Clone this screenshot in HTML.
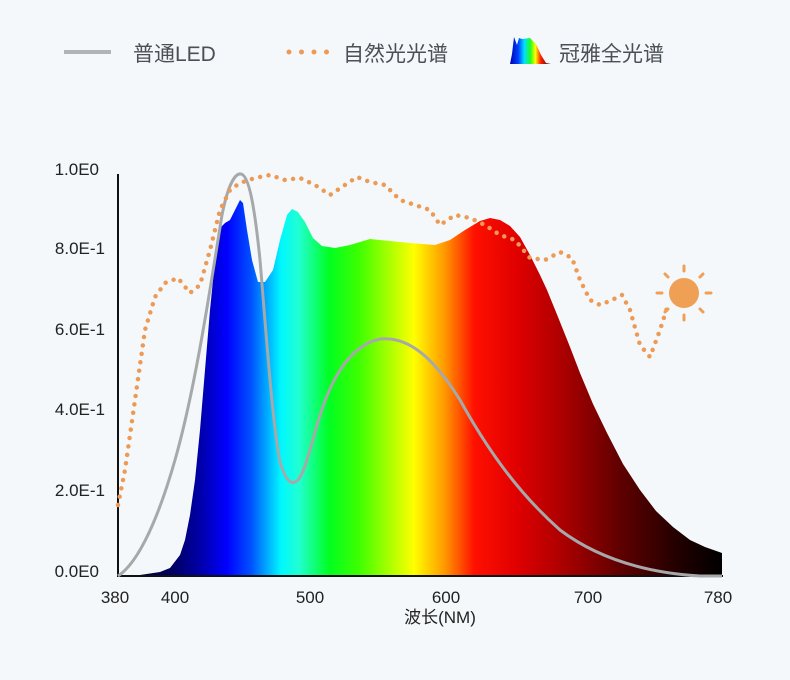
<!DOCTYPE html>
<html><head><meta charset="utf-8"><style>
body{margin:0;background:#f4f8fb;}
svg{display:block;font-family:"Liberation Sans","Noto Sans CJK SC",sans-serif;}
</style></head><body>
<svg width="790" height="680" viewBox="0 0 790 680">
<defs>
<linearGradient id="sp" gradientUnits="userSpaceOnUse" x1="118" y1="0" x2="722" y2="0">
<stop offset="0" stop-color="#000030"/>
<stop offset="0.09" stop-color="#000060"/>
<stop offset="0.14" stop-color="#0000b0"/>
<stop offset="0.18" stop-color="#0000ff"/>
<stop offset="0.22" stop-color="#0050ff"/>
<stop offset="0.27" stop-color="#00f8ff"/>
<stop offset="0.30" stop-color="#20ffd0"/>
<stop offset="0.35" stop-color="#00ff20"/>
<stop offset="0.40" stop-color="#40ff00"/>
<stop offset="0.46" stop-color="#c0ff00"/>
<stop offset="0.49" stop-color="#ffff00"/>
<stop offset="0.54" stop-color="#ff9a00"/>
<stop offset="0.59" stop-color="#ff1000"/>
<stop offset="0.66" stop-color="#e00000"/>
<stop offset="0.73" stop-color="#b00000"/>
<stop offset="0.83" stop-color="#600000"/>
<stop offset="0.93" stop-color="#200000"/>
<stop offset="1" stop-color="#000000"/>
</linearGradient>
<linearGradient id="lg" x1="0" y1="0" x2="1" y2="0">
<stop offset="0" stop-color="#0000b0"/><stop offset="0.2" stop-color="#0040ff"/><stop offset="0.35" stop-color="#00e0ff"/><stop offset="0.5" stop-color="#20ff20"/><stop offset="0.62" stop-color="#ffff00"/><stop offset="0.75" stop-color="#ff2000"/><stop offset="1" stop-color="#300000"/>
</linearGradient>
</defs>
<line x1="64" y1="52" x2="111" y2="52" stroke="#b1b4b7" stroke-width="4"/>
<text x="133" y="61" font-size="21" fill="#4a5055">普通LED</text>
<line x1="289" y1="52" x2="327" y2="52" stroke="#ec9a55" stroke-width="5" stroke-linecap="round" stroke-dasharray="0 12.5"/>
<text x="343" y="61" font-size="21" fill="#4a5055">自然光光谱</text>
<path d="M510,64 L512,54 L514,37 L517,45 L519,38 L522,39 L530,38 L536,44 L541,55 L546,63 L551,64 Z" fill="url(#lg)"/>
<text x="559" y="61" font-size="21" fill="#4a5055">冠雅全光谱</text>
<path fill="url(#sp)" d="M118,576 L140,575 L160,572 L170,568 L180,555 L185,540 L190,515 L195,480 L200,430 L205,370 L210,310 L215,260 L220,228 L225,223 L230,220 L235,210 L240,200 L243,203 L247,230 L252,260 L258,282 L265,282 L273,270 L280,240 L287,215 L292,209 L298,212 L305,222 L313,238 L322,246 L335,248 L350,245 L370,239 L390,241 L410,243 L435,245 L450,240 L465,230 L480,221 L490,218 L500,220 L510,226 L520,237 L530,255 L540,275 L547,290 L558,317 L570,347 L580,373 L593,404 L607,433 L623,464 L640,490 L656,511 L673,527 L690,540 L705,547 L722,553 L722,576 Z"/>
<line x1="118" y1="174" x2="118" y2="577" stroke="#111" stroke-width="2"/>
<line x1="117" y1="576" x2="723" y2="576" stroke="#111" stroke-width="2"/>
<g font-size="17" fill="#222" text-anchor="end">
<text x="99" y="175">1.0E0</text><text x="105" y="254">8.0E-1</text><text x="105" y="335">6.0E-1</text><text x="105" y="415">4.0E-1</text><text x="105" y="496">2.0E-1</text><text x="99" y="577">0.0E0</text>
</g>
<g font-size="17" fill="#222" text-anchor="middle">
<text x="115" y="603">380</text><text x="175" y="603">400</text><text x="310" y="603">500</text><text x="446" y="603">600</text><text x="588" y="603">700</text><text x="718" y="603">780</text>
<text x="440" y="623">波长(NM)</text>
</g>
<path fill="none" stroke="#a6a8aa" stroke-width="3" stroke-linejoin="round" d="M118,576 C135,565 155,530 175,460 C195,390 210,290 222,215 C228,185 235,173 241,174 C248,175 254,200 260,260 C266,330 272,420 280,462 C286,482 292,486 298,480 C305,472 311,445 318,422 C330,380 350,345 380,339 C410,336 435,360 460,400 C485,445 515,490 560,530 C600,560 650,573 700,576 L722,576"/>
<path fill="none" stroke="#ec9a55" stroke-width="4.5" stroke-linecap="round" stroke-dasharray="0 8.5" d="M118,505 L125,470 L135,400 L145,330 L155,297 L165,283 L178,278 L190,293 L200,285 L210,250 L220,210 L230,190 L240,183 L255,178 L270,175 L285,180 L300,178 L315,185 L330,195 L345,185 L357,177 L370,182 L385,185 L400,200 L415,205 L430,210 L440,225 L455,215 L470,218 L485,225 L500,235 L515,240 L530,258 L545,260 L560,252 L572,258 L580,280 L590,300 L600,305 L612,300 L622,295 L630,310 L640,345 L650,357 L660,330 L667,308"/>
<circle cx="684" cy="293" r="15" fill="#f0a055"/>
<g stroke="#f0a055" stroke-width="3" stroke-linecap="round">
<line x1="684" y1="266" x2="684" y2="271"/><line x1="684" y1="315" x2="684" y2="320"/>
<line x1="657" y1="293" x2="662" y2="293"/><line x1="706" y1="293" x2="711" y2="293"/>
<line x1="665" y1="274" x2="668" y2="277"/><line x1="700" y1="309" x2="703" y2="312"/>
<line x1="703" y1="274" x2="700" y2="277"/><line x1="668" y1="309" x2="665" y2="312"/>
</g>
</svg>
</body></html>
